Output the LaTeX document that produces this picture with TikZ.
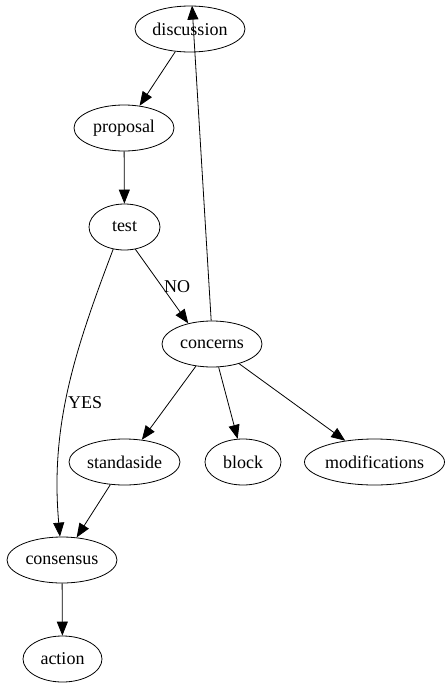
\documentclass[tikz,border=0pt]{standalone}
\usepackage{fontspec}
\setmainfont{Liberation Serif}
\usepackage{tikz}
\usetikzlibrary{
  arrows.meta,
  shapes.geometric
}
\tikzset{
  stage/.style={ellipse,draw,line width=0.8pt,minimum height=46pt,
    inner sep=0pt,font=\fontsize{18}{20}\selectfont},
  flow/.style={-{Triangle[length=14pt,width=11pt]},line width=0.8pt},
  lab/.style={font=\fontsize{18}{20}\selectfont,inner sep=2pt}
}

\begin{document}
\begin{tikzpicture}[x=1pt,y=-1pt]
  \useasboundingbox (0,0) rectangle (447,688);
  \node[stage,minimum width=110pt] (discussion) at (190,29) {discussion};
  \node[stage,minimum width=100pt] (proposal) at (124,128) {proposal};
  \node[stage,minimum width=71pt] (test) at (124.5,227) {test};
  \node[stage,minimum width=100pt] (concerns) at (212,344) {concerns};
  \node[stage,minimum width=111pt] (standaside) at (124.5,462) {standaside};
  \node[stage,minimum width=76pt] (block) at (243,462) {block};
  \node[stage,minimum width=135pt] (modifications) at (374.5,462) {modifications};
  \node[stage,minimum width=110pt] (consensus) at (62,560) {consensus};
  \node[stage,minimum width=79pt] (action) at (62.5,659) {action};
  \draw[flow] (discussion.-123) -- (proposal.55);
  \draw[flow] (proposal) -- (test);
  \draw[flow] (test.-64) -- node[lab,right]{NO} (concerns.139);
  \draw[flow] (test.-117) .. controls (75,350) and (50,425) ..
    node[lab,pos=0.55,right]{YES} (consensus.95);
  \draw[flow] (concerns.92) -- (discussion.85);
  \draw[flow] (concerns.-126) -- (standaside.52);
  \draw[flow] (concerns.-74) -- (block.103);
  \draw[flow] (concerns.-36) -- (modifications.144);
  \draw[flow] (standaside.-122) -- (consensus.57);
  \draw[flow] (consensus) -- (action);
\end{tikzpicture}
\end{document}
